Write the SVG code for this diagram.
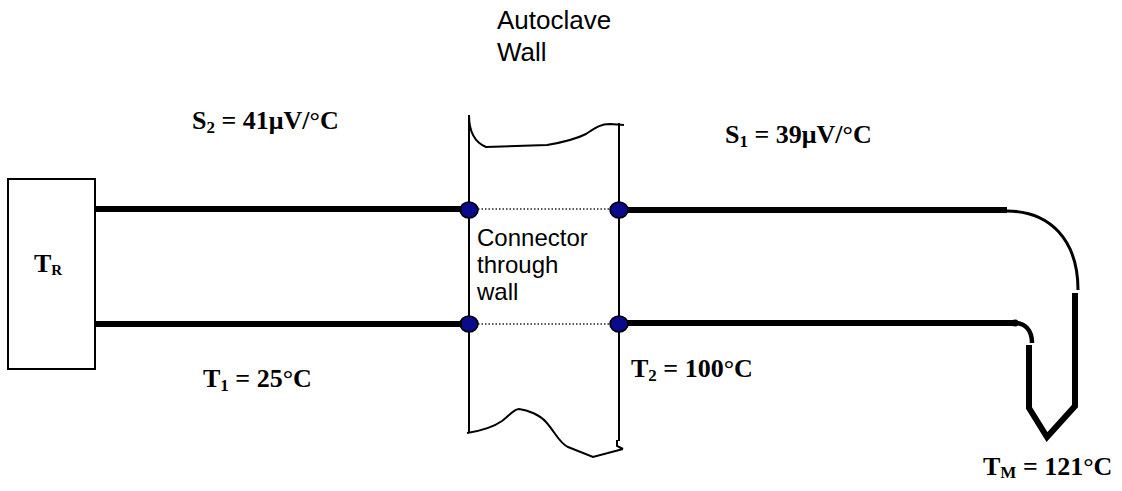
<svg xmlns="http://www.w3.org/2000/svg" width="1122" height="491" viewBox="0 0 1122 491">
<style>
.bg{fill:#ffffff}
.lbl{font-family:"Liberation Serif","Times New Roman",serif;font-weight:bold;font-size:26px;fill:#000}
.sub{font-size:17px}
.note{font-family:"Liberation Sans",Arial,sans-serif;fill:#000}
.wire{stroke:#000;stroke-width:6;fill:none}
.thin{stroke:#000;stroke-width:2;fill:none}
.dot{fill:#0a0a8a;stroke:#000;stroke-width:1.5}
.dotted{stroke:#222;stroke-width:1.3;stroke-dasharray:1.5 2;fill:none}
</style>
<rect class="bg" x="0" y="0" width="1122" height="491"/>

<g id="wall">
  <line class="thin" x1="469" y1="115" x2="469" y2="433"/>
  <line class="thin" x1="619" y1="123" x2="619" y2="441"/>
  <path class="thin" d="M469,115 C469,130 474,142 486,147 L547,145 C565,142 578,138 586,134 C595,128 600,124 610,124 L624,125"/>
  <path class="thin" d="M467,433 C480,431 492,428 502,421 C510,415 514,409 519,409 C528,410 540,415 546,422 C555,432 560,444 568,447 L593,457 L623,449 M617,440 L617,446 L623,449"/>
  <text class="note" font-size="26" x="497" y="29">Autoclave</text>
  <text class="note" font-size="26" x="497" y="61">Wall</text>
</g>

<g id="recorder">
  <rect x="8" y="179" width="87" height="190" fill="#fff" stroke="#000" stroke-width="2"/>
  <text class="lbl" font-size="22" x="34" y="272">T<tspan font-size="15" dy="3">R</tspan></text>
</g>

<g id="connector">
  <line class="dotted" x1="478" y1="209" x2="610" y2="209"/>
  <line class="dotted" x1="478" y1="324" x2="610" y2="324"/>
  <ellipse class="dot" cx="469" cy="210" rx="9" ry="8"/>
  <ellipse class="dot" cx="619" cy="210" rx="9" ry="8"/>
  <ellipse class="dot" cx="469" cy="324" rx="9" ry="8"/>
  <ellipse class="dot" cx="619" cy="324" rx="9" ry="8"/>
  <text class="note" font-size="24"><tspan x="477" y="246">Connector</tspan><tspan x="477" y="273">through</tspan><tspan x="477" y="300">wall</tspan></text>
</g>

<g id="probe">
  <path d="M1007,211 C1050,211 1078,240 1078,290" stroke="#000" stroke-width="3" fill="none"/>
  <path d="M1032,343 C1032,330 1025,323 1015,323" stroke="#000" stroke-width="4.5" fill="none"/>
  <circle cx="1015" cy="323" r="3.5" fill="#000"/>
  <path class="wire" d="M1075,293 L1075,406 L1047,437 L1029,408 L1029,345" stroke-linejoin="miter"/>
</g>

<g id="connectors">
  <line class="wire" x1="95" y1="209" x2="462" y2="209"/>
  <line class="wire" x1="95" y1="324" x2="462" y2="324"/>
  <line class="wire" x1="627" y1="210" x2="1007" y2="210"/>
  <line class="wire" x1="627" y1="323" x2="1015" y2="323"/>
</g>

<g id="labels">
  <text class="lbl" x="192" y="129">S<tspan class="sub" dy="4">2</tspan><tspan dy="-4"> = 41μV/°C</tspan></text>
  <text class="lbl" x="725" y="143">S<tspan class="sub" dy="4">1</tspan><tspan dy="-4"> = 39μV/°C</tspan></text>
  <text class="lbl" x="203" y="387">T<tspan class="sub" dy="4">1</tspan><tspan dy="-4"> = 25°C</tspan></text>
  <text class="lbl" x="631" y="377">T<tspan class="sub" dy="4">2</tspan><tspan dy="-4"> = 100°C</tspan></text>
  <text class="lbl" x="983" y="475">T<tspan class="sub" dy="3">M</tspan><tspan dy="-3"> = 121°C</tspan></text>
</g>
</svg>
